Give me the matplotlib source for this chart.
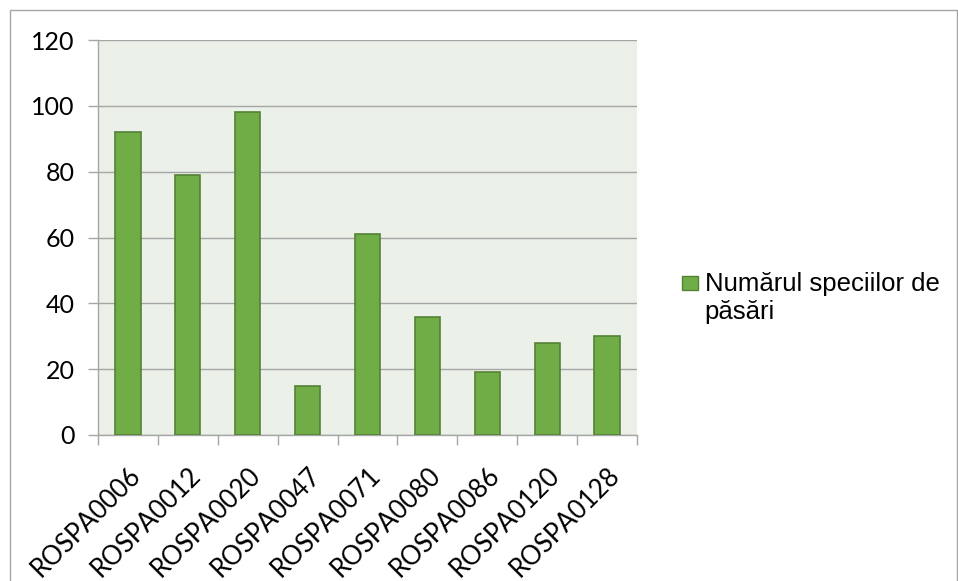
import matplotlib.pyplot as plt
from matplotlib.patches import Patch, Rectangle
from matplotlib.legend_handler import HandlerPatch

# numărul speciilor de păsări pe arie protejată
sites = ['ROSPA0006', 'ROSPA0012', 'ROSPA0020', 'ROSPA0047', 'ROSPA0071',
         'ROSPA0080', 'ROSPA0086', 'ROSPA0120', 'ROSPA0128']
species = [92, 79, 98, 15, 61, 36, 19, 28, 30]
y_ticks = [0, 20, 40, 60, 80, 100, 120]
legend_label = 'Numărul speciilor de\npăsări'

bar_color = '#70AD47'
edge_color = '#548235'
grid_color = '#A6A6A6'

fig = plt.figure(figsize=(9.58, 5.81), dpi=100)
ax = fig.add_axes([98 / 958, 1 - 435 / 581, 539 / 958, 395 / 581])
ax.set_facecolor('#EBF0E8')

x = list(range(len(sites)))
ax.bar(x, species, width=0.42, color=bar_color, edgecolor=edge_color,
       linewidth=1.2, zorder=3)

ax.set_xlim(-0.5, len(sites) - 0.5)
ax.set_ylim(0, 120)
ax.set_yticks(y_ticks)
ax.yaxis.grid(True, color=grid_color, linewidth=1, zorder=0)

# ticks between categories, labels centred under the bars
ax.set_xticks([i - 0.5 for i in range(len(sites) + 1)])
ax.set_xticklabels([])
ax.set_xticks(x, minor=True)
ax.set_xticklabels(sites, minor=True, rotation=45, ha='right',
                   rotation_mode='anchor', fontsize=18.5, family='Lato')
ax.tick_params(axis='x', which='minor', length=0, pad=20)
ax.tick_params(axis='x', which='major', length=7, color=grid_color, width=1)
ax.tick_params(axis='y', length=7, color=grid_color, width=1, pad=10,
               labelsize=18)
for lab in ax.get_yticklabels():
    lab.set_family('Lato')

for side in ['top', 'right']:
    ax.spines[side].set_visible(False)
for side in ['left', 'bottom']:
    ax.spines[side].set_color(grid_color)
    ax.spines[side].set_linewidth(1)


# keep the legend square level with the first line of the label
def top_line_square(legend, orig_handle, xdescent, ydescent, width, height, fontsize):
    return Rectangle((-xdescent, -ydescent + 0.6 * fontsize), width, height)


handle = Patch(facecolor=bar_color, edgecolor=edge_color, linewidth=1)
fig.legend([handle], [legend_label], loc='upper left',
           bbox_to_anchor=(672 / 958, 1 - 262 / 581), frameon=False,
           prop={'family': 'Liberation Sans', 'size': 18.5},
           handlelength=0.62, handleheight=0.45, handletextpad=0.25,
           borderaxespad=0, labelspacing=0.2,
           handler_map={Patch: HandlerPatch(patch_func=top_line_square)})

# chart frame
fig.patches.append(Rectangle((10 / 958, -0.01), 946.5 / 958, 1 - 10 / 581 + 0.01,
                             transform=fig.transFigure, fill=False,
                             edgecolor='#A6A6A6', linewidth=1))

fig.savefig('out.png', dpi=100)
